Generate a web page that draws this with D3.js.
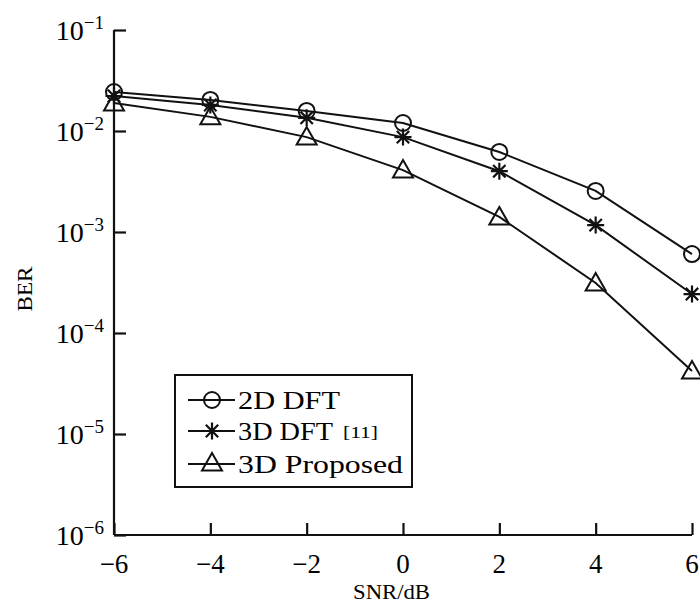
<!DOCTYPE html>
<html>
<head>
<meta charset="utf-8">
<script src="https://cdn.jsdelivr.net/npm/d3@7"></script>
<style>
  html, body { margin: 0; padding: 0; background: #fff; }
  svg { display: block; }
  svg text { font-family: "Liberation Serif", "Times New Roman", Times, serif; fill: #000; }
</style>
</head>
<body>
<svg id="chart" width="700" height="603"></svg>
<script>
// ---- data ----
const snr = [-6, -4, -2, 0, 2, 4, 6];
const ber2DDFT = [0.0243, 0.0203, 0.0158, 0.0120, 0.0062, 0.00255, 0.000605];
const ber3DDFT = [0.0222, 0.0181, 0.0135, 0.0087, 0.0040, 0.00117, 0.000243];
const ber3DProposed = [0.0189, 0.0138, 0.0087, 0.0041, 0.00141, 0.000313, 0.000042];
const seriesNames = ["2D DFT", "3D DFT", "3D Proposed"];
const xTicks = [-6, -4, -2, 0, 2, 4, 6];
const yTickExps = [-1, -2, -3, -4, -5, -6];
const xLabel = "SNR/dB";
const yLabel = "BER";

(function () {
const svg = d3.select("#chart");
const pLeft = 114, pRight = 692, pTop = 30, pBottom = 535;

const x = d3.scaleLinear().domain([-6, 6]).range([pLeft, pRight]);
const y = d3.scaleLog().domain([1e-6, 1e-1]).range([pBottom, pTop]);

// axes lines + ticks
const yAxis = d3.axisLeft(y)
  .tickValues(yTickExps.map(e => Math.pow(10, e)))
  .tickSize(-12).tickFormat("");
const gy = svg.append("g").attr("transform", `translate(${pLeft},0)`).call(yAxis);
gy.select(".domain").attr("d", `M0,${pBottom}V${pTop}`).attr("stroke", "#111").attr("stroke-width", 2.2);
gy.selectAll(".tick line").attr("stroke", "#111").attr("stroke-width", 2.2);

const xAxis = d3.axisBottom(x).tickValues(xTicks).tickSize(-12).tickFormat("");
const gx = svg.append("g").attr("transform", `translate(0,${pBottom})`).call(xAxis);
gx.select(".domain").attr("d", `M${pLeft},0H${pRight}`).attr("stroke", "#111").attr("stroke-width", 2.2);
gx.selectAll(".tick line").attr("stroke", "#111").attr("stroke-width", 2.2);

// y tick labels with superscripts
yTickExps.forEach(e => {
  const t = svg.append("text")
    .attr("x", 104).attr("y", y(Math.pow(10, e)) + 10)
    .attr("text-anchor", "end");
  t.append("tspan").attr("font-size", 28).text("10");
  t.append("tspan").attr("font-size", 19).attr("dy", -11).text("\u2212" + Math.abs(e));
});

// x tick labels
xTicks.forEach(v => {
  svg.append("text")
    .attr("x", x(v)).attr("y", 573)
    .attr("text-anchor", "middle").attr("font-size", 27)
    .text(v < 0 ? "\u2212" + Math.abs(v) : String(v));
});

// axis labels
svg.append("text").attr("x", 391.5).attr("y", 599).attr("text-anchor", "middle")
  .attr("font-size", 20).attr("textLength", 77).attr("lengthAdjust", "spacingAndGlyphs").text(xLabel);
svg.append("text").attr("transform", "translate(32,289) rotate(-90)").attr("text-anchor", "middle")
  .attr("font-size", 20).attr("textLength", 45).attr("lengthAdjust", "spacingAndGlyphs").text(yLabel);

// markers
function drawMarker(g, type, cx, cy) {
  const s = g.append("path").attr("fill", "none").attr("stroke", "#111").attr("stroke-width", 2);
  if (type === 0) {
    s.attr("d", `M${cx + 8},${cy}A8,8 0 1,1 ${cx - 8},${cy}A8,8 0 1,1 ${cx + 8},${cy}Z`);
  } else if (type === 1) {
    const r = 8.5, d = 6.2;
    s.attr("d", `M${cx},${cy - r}V${cy + r}M${cx - r},${cy}H${cx + r}` +
      `M${cx - d},${cy - d}L${cx + d},${cy + d}M${cx - d},${cy + d}L${cx + d},${cy - d}`)
      .attr("stroke-width", 2.2);
  } else {
    s.attr("d", `M${cx},${cy - 10}L${cx + 10},${cy + 7.5}L${cx - 10},${cy + 7.5}Z`);
  }
}

const allSeries = [ber2DDFT, ber3DDFT, ber3DProposed];
const line = d3.line().x(d => x(d[0])).y(d => y(d[1]));
allSeries.forEach((vals, i) => {
  const pts = snr.map((s, k) => [s, vals[k]]);
  const g = svg.append("g");
  g.append("path").attr("d", line(pts)).attr("fill", "none").attr("stroke", "#111").attr("stroke-width", 2);
  pts.forEach(p => drawMarker(g, i, x(p[0]), y(p[1])));
});

// legend
const lg = svg.append("g");
lg.append("rect").attr("x", 175).attr("y", 375).attr("width", 237).attr("height", 112)
  .attr("fill", "#fff").attr("stroke", "#111").attr("stroke-width", 2);
const rowsY = [409, 440, 473];
const textLens = [102, 95, 165];
seriesNames.forEach((name, i) => {
  const cy = rowsY[i] - 9;
  lg.append("path").attr("d", `M188,${cy}H235`).attr("stroke", "#111").attr("stroke-width", 2);
  drawMarker(lg, i, 212, i === 2 ? cy - 1 : cy);
  lg.append("text").attr("x", 238).attr("y", rowsY[i]).attr("font-size", 26)
    .attr("textLength", textLens[i]).attr("lengthAdjust", "spacingAndGlyphs").text(name);
});
lg.append("text").attr("x", 343).attr("y", 438).attr("font-size", 17)
  .attr("textLength", 35).attr("lengthAdjust", "spacingAndGlyphs").attr("fill", "#333").text("[11]");
})();
</script>
</body>
</html>
